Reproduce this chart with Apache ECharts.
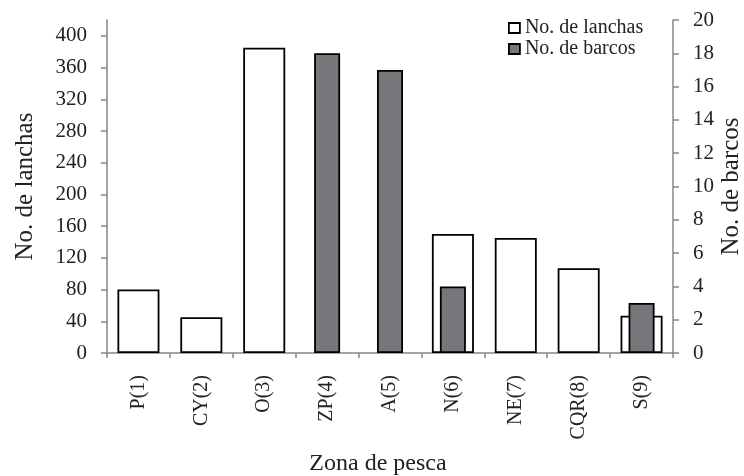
<!DOCTYPE html>
<html><head><meta charset="utf-8">
<script src="https://cdn.jsdelivr.net/npm/echarts@6/dist/echarts.min.js"></script>
<style>html,body{margin:0;padding:0;background:#fff}#c{width:744px;height:476px}</style>
</head><body><div id="c"></div>
<script>
const categories = ['P(1)','CY(2)','O(3)','ZP(4)','A(5)','N(6)','NE(7)','CQR(8)','S(9)'];
const lanchas = [80, 45, 385, null, null, 150, 145, 107, 47];
const barcos = [null, null, null, 18, 17, 4, null, null, 3];
const leftTicks = [0,40,80,120,160,200,240,280,320,360,400];
const font = 'Liberation Serif';
const axisGrey = '#868686';
const txt = '#222';
const chart = echarts.init(document.getElementById('c'));
chart.setOption({
  animation: false,
  backgroundColor: '#fff',
  textStyle: {fontFamily: font},
  legend: {
    orient: 'vertical', left: 508, top: 18, itemGap: 1, padding: 0,
    itemWidth: 11, itemHeight: 10, icon: 'rect',
    itemStyle: {borderWidth: 1.8, borderColor: '#000'},
    textStyle: {fontFamily: font, fontSize: 20, color: txt, padding: [0,0,0,0]},
    data: ['No. de lanchas','No. de barcos']
  },
  grid: {left: 107, right: 71, top: 20, bottom: 123, outerBoundsMode: 'none', containLabel: false},
  xAxis: [{
    type: 'category', data: categories,
    name: 'Zona de pesca', nameLocation: 'middle', nameGap: 99,
    nameTextStyle: {fontFamily: font, fontSize: 24, color: txt, padding: [0, 24, 0, 0]},
    axisLine: {lineStyle: {color: axisGrey, width: 1.5}},
    axisTick: {show: true, length: 5, lineStyle: {color: axisGrey, width: 1.5}},
    axisLabel: {rotate: 90, margin: 22, fontFamily: font, fontSize: 20, color: txt}
  },{
    type: 'category', data: categories, show: false, position: 'bottom'
  }],
  yAxis: [{
    type: 'value', min: 0, max: 420, interval: 40,
    name: 'No. de lanchas', nameLocation: 'middle', nameGap: 69, nameMoveOverlap: false,
    nameTextStyle: {fontFamily: font, fontSize: 25, color: txt},
    axisLine: {show: true, lineStyle: {color: axisGrey, width: 1.5}},
    axisTick: {show: true, length: 6, lineStyle: {color: axisGrey, width: 1.5}, customValues: leftTicks},
    axisLabel: {fontFamily: font, fontSize: 21, color: txt, margin: 20, customValues: leftTicks},
    splitLine: {show: false}
  },{
    type: 'value', min: 0, max: 20, interval: 2, position: 'right',
    name: 'No. de barcos', nameLocation: 'middle', nameGap: 46, nameMoveOverlap: false,
    nameTextStyle: {fontFamily: font, fontSize: 25, color: txt},
    axisLine: {show: true, lineStyle: {color: axisGrey, width: 1.5}},
    axisTick: {show: true, length: 6, lineStyle: {color: axisGrey, width: 1.5}},
    axisLabel: {fontFamily: font, fontSize: 21, color: txt, margin: 20},
    splitLine: {show: false}
  }],
  series: [{
    name: 'No. de lanchas', type: 'bar', xAxisIndex: 0, yAxisIndex: 0,
    data: lanchas, barWidth: 42,
    itemStyle: {color: '#ffffff', borderColor: '#000', borderWidth: 1.8}
  },{
    name: 'No. de barcos', type: 'bar', xAxisIndex: 1, yAxisIndex: 1,
    data: barcos, barWidth: 26,
    itemStyle: {color: '#76777b', borderColor: '#000', borderWidth: 1.8}
  }]
});
</script></body></html>
